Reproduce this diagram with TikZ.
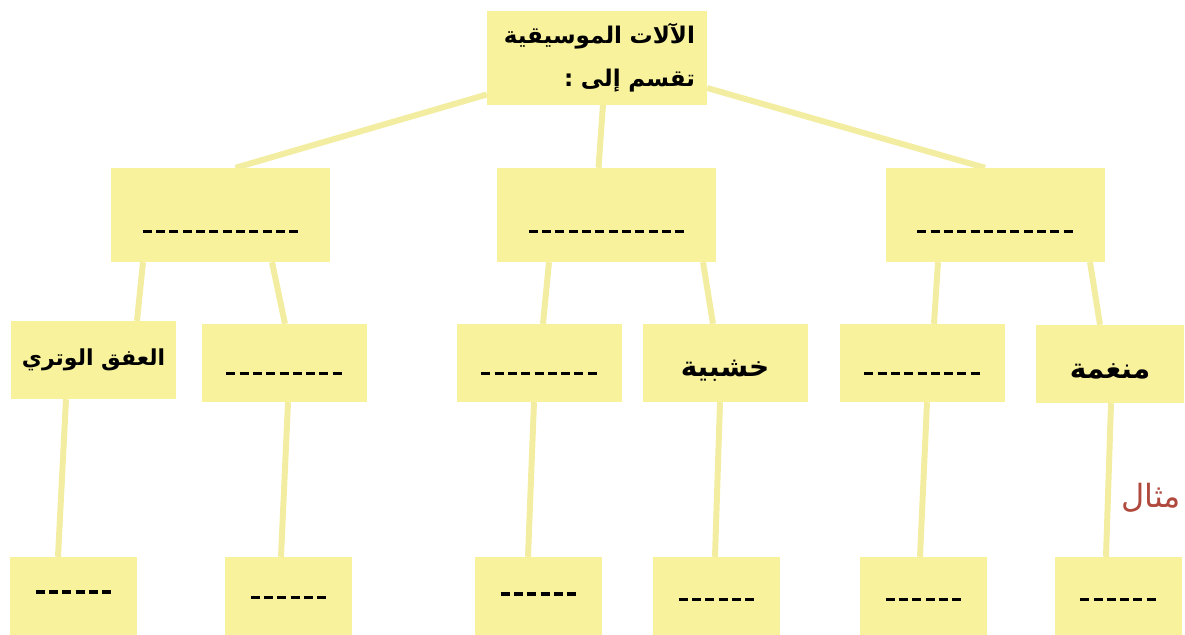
\documentclass[tikz,border=0pt]{standalone}
\usepackage{fontspec}
\usetikzlibrary{backgrounds}
\newfontfamily\arabicfont[Script=Arabic]{DejaVu Sans}
\TeXXeTstate=1
\definecolor{boxy}{HTML}{F8F29C}
\definecolor{liney}{HTML}{F3EDA2}
\definecolor{redt}{HTML}{B04A3E}
\newcommand{\dsh}[1]{\foreach \i in {1,...,#1}{\rule[0pt]{9pt}{3.4pt}\hspace{4.3pt}}\hspace{-4.3pt}}
\tikzset{
  box/.style={fill=boxy, draw=none, inner sep=0pt, anchor=center},
  topbox/.style={box, minimum width=220pt, minimum height=93pt, align=right,
     text width=196pt, inner xsep=12pt,
     font=\arabicfont\bfseries\fontsize{23}{43}\selectfont},
  midbox/.style={box, minimum width=219pt, minimum height=94pt},
  lowbox/.style={box, minimum width=165pt, minimum height=78pt,
     font=\arabicfont\bfseries\fontsize{22}{28}\selectfont},
  leafbox/.style={box, minimum width=127pt, minimum height=80pt},
  conn/.style={draw=liney, line width=6pt},
  note/.style={text=redt, font=\arabicfont\fontsize{32}{36}\selectfont, inner sep=0pt}
}
\begin{document}
\begin{tikzpicture}[x=1pt,y=-1pt]
\useasboundingbox (0,0) rectangle (1185,634);
% nodes
\node[topbox] (top) at (597,58) {\beginR الآلات الموسيقية\endR\\\beginR تقسم إلى :\endR};
\node[midbox] (ma) at (220.5,215) {\raisebox{-36pt}{\dsh{12}}};
\node[midbox] (mb) at (606.5,215) {\raisebox{-36pt}{\dsh{12}}};
\node[midbox] (mc) at (995,215) {\raisebox{-36pt}{\dsh{12}}};
\node[lowbox] (la) at (93.5,360) {\beginR العفق الوتري\endR};
\node[lowbox] (lb) at (284,363) {\raisebox{-24pt}{\dsh{9}}};
\node[lowbox] (lc) at (539,363) {\raisebox{-24pt}{\dsh{9}}};
\node[lowbox, text height=26pt, text depth=0pt, font=\arabicfont\bfseries\fontsize{28}{30}\selectfont] (ld) at (725,363) {\beginR خشبية\endR};
\node[lowbox] (le) at (922,363) {\raisebox{-24pt}{\dsh{9}}};
\node[lowbox, minimum width=148pt, text height=28pt, text depth=0pt, font=\arabicfont\bfseries\fontsize{28}{30}\selectfont] (lf) at (1110,364) {\beginR منغمة\endR};
\node[leafbox] (fa) at (73.5,597) {\raisebox{10pt}{\dsh{6}}};
\node[leafbox] (fb) at (288.5,597) {\raisebox{-4pt}{\dsh{6}}};
\node[leafbox] (fc) at (538.5,597) {\raisebox{6pt}{\dsh{6}}};
\node[leafbox] (fd) at (716.5,597) {\raisebox{-8pt}{\dsh{6}}};
\node[leafbox] (fe) at (923.5,597) {\raisebox{-8pt}{\dsh{6}}};
\node[leafbox] (ff) at (1118,597) {\raisebox{-8pt}{\dsh{6}}};
\node[note] (ex) at (1151,498) {\beginR مثال\endR};
% connectors behind the boxes
\begin{pgfonlayer}{background}
\draw[conn] ([yshift=-36.5pt]top.west) -- ([xshift=15pt]ma.north);
\draw[conn] ([xshift=6pt]top.south) -- ([xshift=-8pt]mb.north);
\draw[conn] ([yshift=-30pt]top.east) -- ([xshift=-10pt]mc.north);
\draw[conn] ([xshift=-77.5pt]ma.south) -- ([xshift=43.5pt]la.north);
\draw[conn] ([xshift=51.5pt]ma.south) -- ([xshift=1pt]lb.north);
\draw[conn] ([xshift=-57.5pt]mb.south) -- ([xshift=4pt]lc.north);
\draw[conn] ([xshift=96.5pt]mb.south) -- ([xshift=-12pt]ld.north);
\draw[conn] ([xshift=-57pt]mc.south) -- ([xshift=12pt]le.north);
\draw[conn] ([xshift=95pt]mc.south) -- ([xshift=-10pt]lf.north);
\draw[conn] ([xshift=-27.5pt]la.south) -- ([xshift=-15.5pt]fa.north);
\draw[conn] ([xshift=4pt]lb.south) -- ([xshift=-7.5pt]fb.north);
\draw[conn] ([xshift=-5pt]lc.south) -- ([xshift=-10.5pt]fc.north);
\draw[conn] ([xshift=-5pt]ld.south) -- ([xshift=-1.5pt]fd.north);
\draw[conn] ([xshift=5pt]le.south) -- ([xshift=-3.5pt]fe.north);
\draw[conn] ([xshift=1pt]lf.south) -- ([xshift=-12pt]ff.north);
\end{pgfonlayer}
\end{tikzpicture}
\end{document}
